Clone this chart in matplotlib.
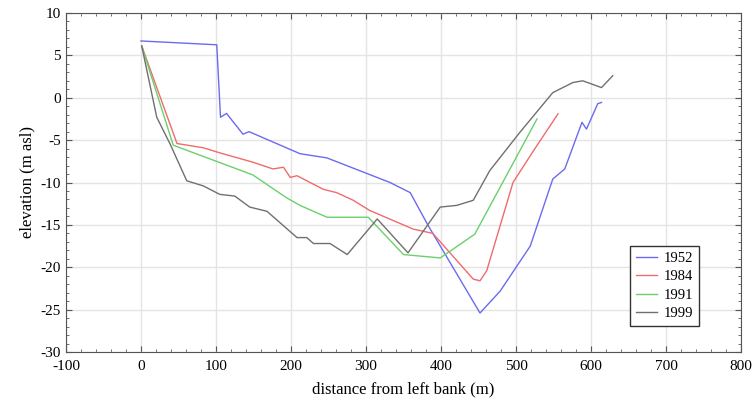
import matplotlib.pyplot as plt
from matplotlib.ticker import MultipleLocator

plt.rcParams['font.family'] = ['Liberation Serif', 'DejaVu Serif']
plt.rcParams['axes.unicode_minus'] = False

# 1952 profile
x1952 = [0, 101, 106, 114, 136, 144, 212, 248, 332, 359, 383, 452, 479, 519,
         549, 565, 588, 594, 609, 614]
y1952 = [6.7, 6.25, -2.3, -1.85, -4.3, -4.0, -6.6, -7.1, -10.0, -11.2, -15.1,
         -25.4, -22.8, -17.5, -9.6, -8.4, -2.9, -3.7, -0.7, -0.55]

# 1984 profile
x1984 = [1, 48, 83, 105, 149, 176, 190, 199, 208, 243, 261, 283, 305, 363,
         389, 443, 452, 461, 496, 523, 556]
y1984 = [6.1, -5.4, -5.9, -6.5, -7.6, -8.4, -8.2, -9.4, -9.2, -10.8, -11.2,
         -12.1, -13.3, -15.5, -16.0, -21.4, -21.6, -20.4, -10.0, -6.3, -1.9]

# 1991 profile
x1991 = [1, 43, 149, 194, 212, 248, 303, 350, 399, 445, 528]
y1991 = [6.1, -5.6, -9.1, -11.8, -12.7, -14.1, -14.1, -18.5, -18.9, -16.1, -2.5]

# 1999 profile
x1999 = [1, 21, 39, 61, 83, 105, 125, 145, 168, 208, 221, 230, 252, 275, 315,
         356, 399, 421, 443, 465, 505, 549, 576, 589, 614, 629]
y1999 = [6.1, -2.3, -5.5, -9.8, -10.4, -11.4, -11.6, -12.9, -13.4, -16.5,
         -16.5, -17.2, -17.2, -18.5, -14.3, -18.3, -12.9, -12.7, -12.1, -8.6,
         -4.1, 0.6, 1.8, 2.0, 1.2, 2.6]

fig = plt.figure(figsize=(7.55, 4.04), dpi=100)
ax = fig.add_axes([66 / 755, 1 - 352 / 404, 675 / 755, 339 / 404])

ax.plot(x1952, y1952, color='#6b6bf0', lw=1, label='1952')
ax.plot(x1984, y1984, color='#f06b6b', lw=1, label='1984')
ax.plot(x1991, y1991, color='#6bd06b', lw=1, label='1991')
ax.plot(x1999, y1999, color='#707070', lw=1, label='1999')

ax.set_xlim(-100, 800)
ax.set_ylim(-30, 10)
ax.xaxis.set_major_locator(MultipleLocator(100))
ax.xaxis.set_minor_locator(MultipleLocator(20))
ax.yaxis.set_major_locator(MultipleLocator(5))
ax.yaxis.set_minor_locator(MultipleLocator(1))
ax.tick_params(which='both', direction='in', top=True, right=True,
               labelsize=11, color='#555555')
ax.tick_params(which='major', length=4)
ax.tick_params(which='minor', length=2)
ax.tick_params(axis='x', pad=6)
ax.grid(True, which='major', color='#e4e4e4', lw=1)
ax.set_axisbelow(True)
for s in ax.spines.values():
    s.set_color('#555555')

ax.set_xlabel('distance from left bank (m)', fontsize=12, labelpad=6)
ax.set_ylabel('elevation (m asl)', fontsize=12)

ax.legend(loc='lower right', bbox_to_anchor=(0.938, 0.077), borderaxespad=0,
          fontsize=10.5, fancybox=False, framealpha=1, edgecolor='#333333',
          handlelength=1.4, handletextpad=0.5, borderpad=0.4,
          labelspacing=0.35)

fig.savefig('out.png', dpi=100)
